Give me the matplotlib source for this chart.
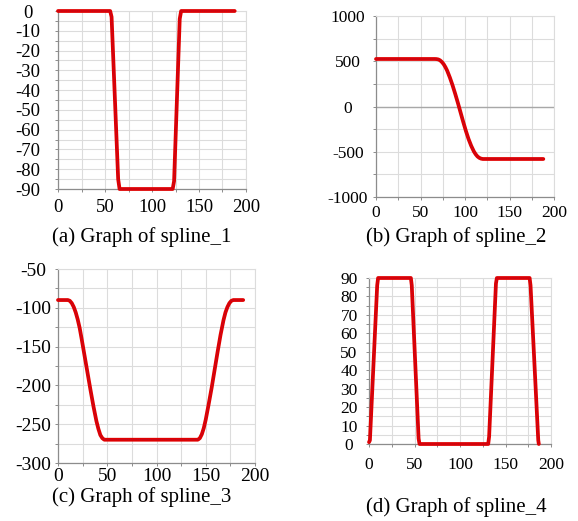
#!/usr/bin/env python3
"""Four spline graphs in a 2x2 grid, with captions below each panel."""

import matplotlib
matplotlib.use("Agg")
import matplotlib.pyplot as plt
from matplotlib.ticker import MultipleLocator

plt.rcParams['font.family'] = ['Liberation Serif', 'DejaVu Serif']
plt.rcParams['axes.unicode_minus'] = False

# spline_1 values
s1_x = [0, 55.5, 57, 64, 65.5, 122, 123.5, 129.5, 131, 188]
s1_y = [0, 0, -3, -85, -90, -90, -86, -4, 0, 0]

# spline_2 values
s2_x = [0, 66, 68, 70, 72, 74, 76, 78, 80, 83, 86, 89, 92, 95, 98, 101,
        104, 107, 110, 112, 114, 116, 118, 120, 122, 188]
s2_y = [525, 525, 524, 520, 510, 492, 468, 435, 395, 320, 235, 140, 40, -65,
        -170, -270, -360, -435, -497, -528, -552, -567, -576, -580, -580, -580]

# spline_3 values
s3_x = [0, 10, 12, 14, 16, 18, 20, 22, 24, 27, 30, 33, 36, 39, 41, 43, 45, 47,
        142, 144, 146, 148, 150, 153, 156, 159, 162, 165, 168, 170, 172, 174,
        176, 178, 188]
s3_y = [-90, -90, -91, -94, -99, -106, -115, -126, -140, -162, -184, -206,
        -227, -246, -256, -264, -268, -270, -270, -268, -263, -255, -244, -224,
        -203, -180, -157, -135, -116, -106, -99, -94, -91, -90, -90]

# spline_4 values
s4_x = [0, 1, 9, 10, 46, 47, 54.5, 55.5, 131, 132, 139.5, 140.5, 176.5, 177.5,
        186, 186.6]
s4_y = [1, 2, 86, 90, 90, 86, 3, 0, 0, 4, 87, 90, 90, 86, 2, 0]

captions = ['(a) Graph of spline_1', '(b) Graph of spline_2',
            '(c) Graph of spline_3', '(d) Graph of spline_4']

W, H = 578, 521


def draw_panel(fig, box, x, y, ylim, ymajor, yminor, fs, ylab_dx, xpad,
               caption, cap_xy, zero_line=False):
    left, top, right, bottom = box
    ax = fig.add_axes([left / W, 1 - bottom / H, (right - left) / W, (bottom - top) / H])

    ax.plot(x, y, color='#e00000', lw=2.7, solid_capstyle='round',
            solid_joinstyle='round', zorder=3, clip_on=False)
    ax.plot(x, y, color='#3030c0', lw=0.5, ls=':', alpha=0.5, zorder=4, clip_on=False)

    ax.set_xlim(0, 200)
    ax.set_ylim(*ylim)
    ax.xaxis.set_major_locator(MultipleLocator(50))
    ax.xaxis.set_minor_locator(MultipleLocator(25))
    ax.yaxis.set_major_locator(MultipleLocator(ymajor))
    ax.yaxis.set_minor_locator(MultipleLocator(yminor))
    ax.grid(which='both', color='#dcdcdc', lw=0.8)
    ax.set_axisbelow(True)
    if zero_line:
        ax.axhline(0, color='#a8a8a8', lw=1.0, zorder=1)

    for side in ('left', 'bottom'):
        ax.spines[side].set_color('#8c8c8c')
        ax.spines[side].set_linewidth(0.9)
    for side in ('top', 'right'):
        ax.spines[side].set_color('#dcdcdc')
        ax.spines[side].set_linewidth(0.8)

    ticklen = 2.5
    ax.tick_params(which='both', direction='out', length=ticklen, width=0.7,
                   color='#8c8c8c', labelsize=fs, labelcolor='black')
    ax.tick_params(axis='y', which='major', pad=ylab_dx * 0.72 - ticklen)
    ax.tick_params(axis='x', which='major', pad=xpad * 0.72 - ticklen)
    for lbl in ax.get_yticklabels():
        lbl.set_horizontalalignment('center')

    fig.text(cap_xy[0] / W, 1 - cap_xy[1] / H, caption, ha='center', va='center',
             fontsize=15)
    return ax


def main():
    fig = plt.figure(figsize=(W / 100, H / 100), dpi=100)

    draw_panel(fig, (58, 11, 246, 189), s1_x, s1_y, (-90, 0), 10, 5, 13.5,
               30, 10, captions[0], (142, 237))
    draw_panel(fig, (376, 16, 554, 197), s2_x, s2_y, (-1000, 1000), 500, 250, 12.5,
               28, 8, captions[1], (456, 237), zero_line=True)
    draw_panel(fig, (58, 269, 255, 463), s3_x, s3_y, (-300, -50), 50, 25, 14,
               25, 5, captions[2], (142, 497))
    draw_panel(fig, (369, 278, 551, 444), s4_x, s4_y, (0, 90), 10, 5, 12.5,
               20, 13, captions[3], (456, 507))

    fig.savefig('out.png', dpi=100)


if __name__ == '__main__':
    main()
